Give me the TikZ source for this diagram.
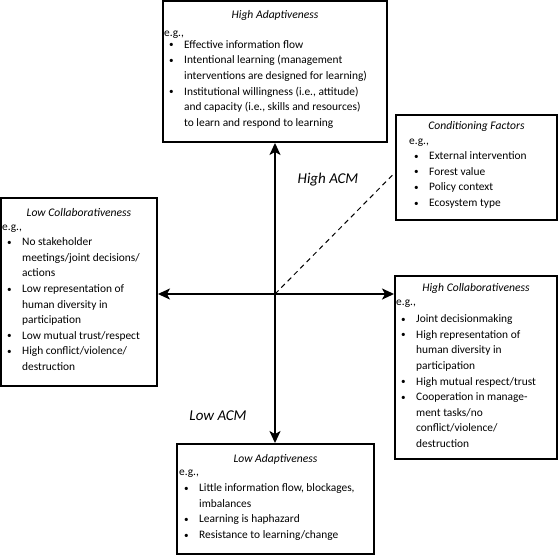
\documentclass[tikz,border=0pt]{standalone}
\usepackage{fontspec}
\setmainfont{Carlito}
\usetikzlibrary{arrows.meta}
\newcommand{\bu}{\makebox[20pt][l]{\hspace{5pt}\raisebox{0.5pt}{\scalebox{0.8}{\textbullet}}}}
\newcommand{\ct}{\hspace*{20pt}}
\newcommand{\fs}{\rule{0pt}{10pt}}
\begin{document}
\begin{tikzpicture}[x=1pt,y=-1pt,
 box/.style={draw, line width=1.9pt, rectangle, inner sep=0pt},
 body/.style={anchor=north west, inner sep=0pt, align=left, font=\fontsize{11.4}{15.6}\selectfont},
 ttl/.style={anchor=base, inner sep=0pt, font=\fontsize{11.6}{12}\selectfont\itshape},
 axis/.style={line width=1.9pt, -{Stealth[length=12pt,width=11pt,inset=3pt]}},
 acm/.style={font=\fontsize{15}{17}\selectfont\itshape, inner sep=0pt}]
\useasboundingbox (0,0) rectangle (558,555);
% boxes
\node[box, minimum width=224pt, minimum height=141pt] (top) at (275,71.5) {};
\node[box, minimum width=161pt, minimum height=105pt] (cond) at (476.5,167.5) {};
\node[box, minimum width=156pt, minimum height=188pt] (lowc) at (79,292) {};
\node[box, minimum width=162pt, minimum height=183pt] (highc) at (476,367.5) {};
\node[box, minimum width=197pt, minimum height=110pt] (lowa) at (275.5,499) {};
% top
\node[ttl] (toptitle) at (275,18) {High Adaptiveness};
\node[body] (topbody) at (164,26) {\fs e.g.,\\[-3.6pt]
 \bu Effective information flow\\
 \bu Intentional learning (management\\
 \ct interventions are designed for learning)\\
 \bu Institutional willingness (i.e., attitude)\\
 \ct and capacity (i.e., skills and resources)\\
 \ct to learn and respond to learning};
% conditioning
\node[ttl] (condtitle) at (476.5,129) {Conditioning Factors};
\node[body] (condbody) at (409,134.5) {\fs e.g.,\\[-0.6pt]
 \bu External intervention\\
 \bu Forest value\\
 \bu Policy context\\
 \bu Ecosystem type};
% low collab
\node[ttl] (lowctitle) at (79,216) {Low Collaborativeness};
\node[body] (lowcbody) at (2,220.5) {\fs e.g.,\\[-0.6pt]
 \bu No stakeholder\\
 \ct meetings/joint decisions/\\
 \ct actions\\
 \bu Low representation of\\
 \ct human diversity in\\
 \ct participation\\
 \bu Low mutual trust/respect\\
 \bu High conflict/violence/\\
 \ct destruction};
% high collab
\node[ttl] (highctitle) at (476,291) {High Collaborativeness};
\node[body] (highcbody) at (396,295.5) {\fs e.g.,\\[1.4pt]
 \bu Joint decisionmaking\\
 \bu High representation of\\
 \ct human diversity in\\
 \ct participation\\
 \bu High mutual respect/trust\\
 \bu Cooperation in manage-\\
 \ct ment tasks/no\\
 \ct conflict/violence/\\
 \ct destruction};
% low adapt
\node[ttl] (lowatitle) at (275.5,462) {Low Adaptiveness};
\node[body] (lowabody) at (179,465.5) {\fs e.g.,\\[0.4pt]
 \bu Little information flow, blockages,\\
 \ct imbalances\\
 \bu Learning is haphazard\\
 \bu Resistance to learning/change};
% labels
\node[acm] (highacm) at (328,180) {High ACM};
\node[acm] (lowacm) at (218,416) {Low ACM};
% axes
\coordinate (o) at (275,294);
\draw[axis] (o) -- (top.south);
\draw[axis] (o) -- (o |- lowa.north);
\draw[axis] (o) -- (o -| lowc.east);
\draw[axis] (o) -- (o -| highc.west);
\draw[line width=1pt, dash pattern=on 5pt off 4pt] (o) -- ([yshift=-5pt]cond.west);
\end{tikzpicture}
\end{document}
